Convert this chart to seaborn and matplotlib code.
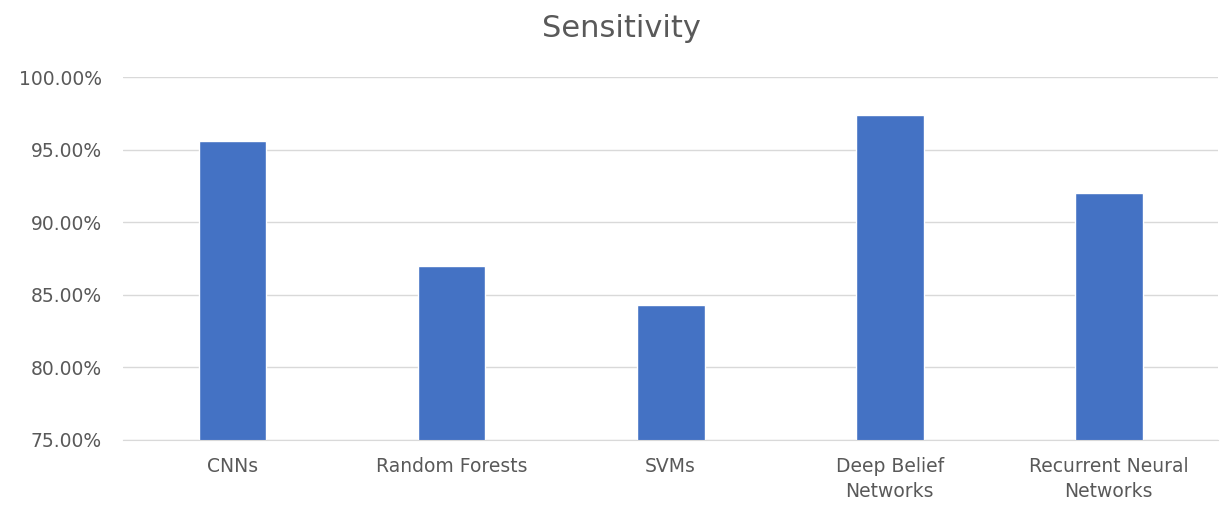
import pandas as pd
import matplotlib.pyplot as plt
import seaborn as sns
from matplotlib.ticker import PercentFormatter

# Dados
modelos = ['CNNs', 'Random Forests', 'SVMs', 'Deep Belief\nNetworks', 'Recurrent Neural\nNetworks']
sensibilidade = [95.62, 87.02, 84.31, 97.39, 92.04]

df = pd.DataFrame({'Modelo': modelos, 'Sensitivity': sensibilidade})

sns.set_style('white')
plt.rcParams['font.family'] = ['DejaVu Sans']

fig = plt.figure(figsize=(12.21, 5.08), dpi=100)
ax = fig.add_axes([0.1007, 0.134, 0.897, 0.714])

sns.barplot(data=df, x='Modelo', y='Sensitivity', color='#4472C4', width=0.31,
            saturation=1, ax=ax)

ax.set_ylim(75, 100)
ax.set_yticks([75, 80, 85, 90, 95, 100])
ax.yaxis.set_major_formatter(PercentFormatter(decimals=2))
ax.grid(axis='y', color='#D9D9D9', linewidth=1)
ax.set_axisbelow(True)
for s in ['top', 'right', 'left']:
    ax.spines[s].set_visible(False)
ax.spines['bottom'].set_color('#D9D9D9')
ax.tick_params(axis='both', length=0, labelsize=13.5, labelcolor='#595959')
ax.tick_params(axis='x', pad=12)
ax.tick_params(axis='y', pad=15)
for lbl in ax.get_xticklabels():
    lbl.set_linespacing(1.45)
ax.set_xlabel('')
ax.set_ylabel('')
fig.suptitle('Sensitivity', x=0.509, y=0.972, fontsize=22, color='#595959')

plt.savefig('out.png', dpi=100)
plt.close()
